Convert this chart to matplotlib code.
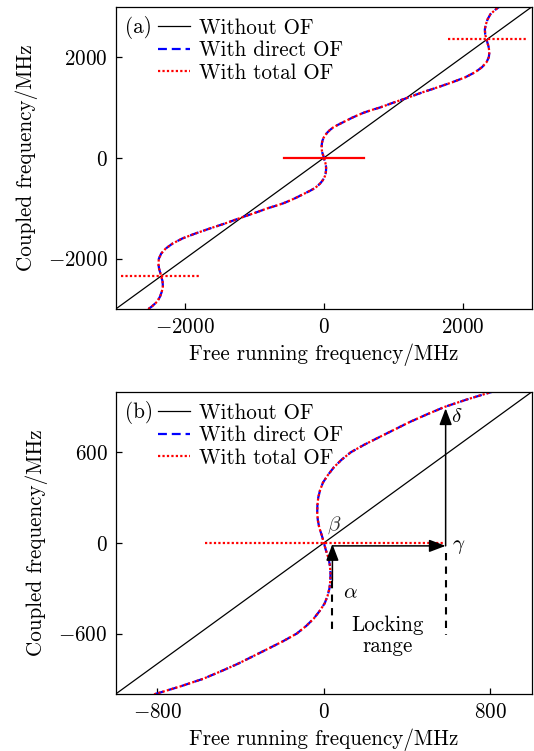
import matplotlib
matplotlib.use("Agg")
import matplotlib.pyplot as plt

plt.rcParams['font.family'] = ['cmr10', 'DejaVu Serif']
plt.rcParams['mathtext.fontset'] = 'cm'
plt.rcParams['axes.formatter.use_mathtext'] = True
plt.rcParams['axes.unicode_minus'] = True

# ---- data ----
# S-shaped coupled-frequency curve (free running freq vs coupled freq), MHz
coupled_freq = [-3000, -2950, -2850, -2750, -2650, -2550, -2450, -2345, -2200, -2100,
                -2000, -1900, -1800, -1700, -1600, -1500, -1400, -1300, -1180, -1100,
                -1000, -950, -900, -850, -800, -750, -700, -650, -600, -550,
                -500, -450, -400, -350, -300, -250, -200, -150, -100, -50,
                0, 50, 100, 150, 200, 250, 300, 350, 400, 450,
                500, 550, 600, 650, 700, 750, 800, 850, 900, 950,
                1000, 1100, 1180, 1300, 1400, 1500, 1600, 1700, 1800, 1900,
                2000, 2100, 2200, 2345, 2450, 2550, 2650, 2750, 2850, 2950, 3000]
free_freq = [-2530, -2480, -2400, -2360, -2335, -2320, -2325, -2345, -2375, -2385,
             -2378, -2345, -2280, -2180, -2040, -1850, -1640, -1420, -1180, -1010,
             -810, -690, -581, -495, -413, -340, -267, -195, -130, -85,
             -48, -20, 4, 18, 27, 31, 32, 29, 22, 10,
             0, -10, -22, -29, -32, -31, -27, -18, -4, 20,
             48, 85, 130, 195, 267, 340, 413, 495, 581, 690,
             810, 1010, 1180, 1420, 1640, 1850, 2040, 2180, 2280, 2345,
             2378, 2385, 2375, 2345, 2325, 2320, 2335, 2360, 2400, 2480, 2530]

# Locking plateaus (with total OF), MHz
plateau_y = [-2345, 0, 2350]
plateau_x0 = [-2920, -570, 1790]
plateau_x1 = [-1790, 575, 2925]

# Axis ticks
ticks_a = [-2000, 0, 2000]
xticks_b = [-800, 0, 800]
yticks_b = [-600, 0, 600]

# Panel (b) annotation points, MHz
alpha_pt = (41, -250)
gamma_pt = (585, -20)
delta_pt = (585, 890)
locking_bottom = -610

fig = plt.figure(figsize=(5.34, 7.51), dpi=100)
ax_a = fig.add_axes([0.2167, 0.5885, 0.7796, 0.4026])
ax_b = fig.add_axes([0.2167, 0.0759, 0.7796, 0.4025])

FS = 15.2
blue_ls = (0, (4, 2.2))
red_ls = (0, (1, 1))

def base(ax, lim, xticks, yticks, tag, show_center_solid):
    ax.plot([-lim, lim], [-lim, lim], color='black', lw=0.9, label='Without OF')
    ax.plot(free_freq, coupled_freq, color='blue', lw=1.6, ls=blue_ls, label='With direct OF')
    ax.plot(free_freq, coupled_freq, color='red', lw=1.6, ls=red_ls, label='With total OF')
    for yv, x0, x1 in zip(plateau_y, plateau_x0, plateau_x1):
        if yv == 0 and show_center_solid:
            ax.plot([x0, x1], [yv, yv], color='red', lw=1.6, ls='-')
        else:
            ax.plot([x0, x1], [yv, yv], color='red', lw=1.6, ls=red_ls)
    ax.set_xlim(-lim, lim)
    ax.set_ylim(-lim, lim)
    ax.set_xticks(xticks)
    ax.set_yticks(yticks)
    ax.tick_params(direction='in', length=4, width=0.9, labelsize=FS, pad=6,
                   top=False, right=False)
    for s in ax.spines.values():
        s.set_linewidth(0.9)
    ax.set_xlabel('Free running frequency/MHz', fontsize=FS, labelpad=5)
    ax.set_ylabel('Coupled frequency/MHz', fontsize=FS, labelpad=7)
    ax.text(0.022, 0.93, tag, transform=ax.transAxes, fontsize=FS, va='center', ha='left')
    ax.legend(loc='upper left', bbox_to_anchor=(0.1016, 0.962), frameon=False,
              fontsize=FS, borderpad=0, borderaxespad=0, handlelength=1.5,
              handletextpad=0.45, labelspacing=0.14)

base(ax_a, 3000, ticks_a, ticks_a, '(a)', True)
base(ax_b, 1000, xticks_b, yticks_b, '(b)', False)

ax = ax_b
arrow_kw = dict(arrowstyle='-|>,head_length=1.0,head_width=0.38', color='black', lw=1.1,
                shrinkA=0, shrinkB=0)
# alpha -> beta
ax.annotate('', xy=(alpha_pt[0], -8), xytext=alpha_pt, arrowprops=arrow_kw)
ax.plot([alpha_pt[0], alpha_pt[0]], [alpha_pt[1], locking_bottom], color='black', lw=1.5,
        ls=(0, (3.5, 3)))
# horizontal jump to gamma
ax.annotate('', xy=gamma_pt, xytext=(alpha_pt[0], gamma_pt[1]), arrowprops=arrow_kw)
# gamma -> delta
ax.annotate('', xy=delta_pt, xytext=gamma_pt, arrowprops=arrow_kw)
ax.plot([gamma_pt[0], gamma_pt[0]], [-66, locking_bottom], color='black', lw=1.5,
        ls=(0, (3.5, 3)))

ax.text(92, -330, r'$\alpha$', fontsize=FS, ha='left', va='center')
ax.text(15, 115, r'$\beta$', fontsize=FS, ha='left', va='center', color='#333333')
ax.text(615, -25, r'$\gamma$', fontsize=FS, ha='left', va='center')
ax.text(610, 840, r'$\delta$', fontsize=FS, ha='left', va='center')
ax.text(307, -612, 'Locking\nrange', fontsize=FS, ha='center', va='center',
        linespacing=1.1)

fig.savefig('out.png', dpi=100)
